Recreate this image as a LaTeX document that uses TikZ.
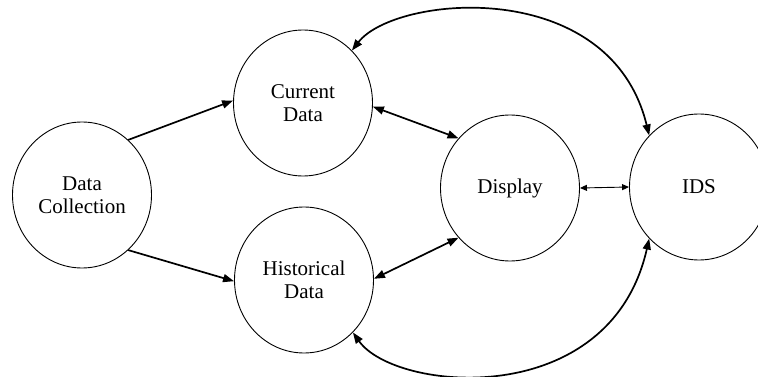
\documentclass[tikz,border=0pt]{standalone}
\usepackage{fontspec}
\setmainfont{Liberation Serif}
\usetikzlibrary{shapes.geometric,arrows.meta}
\tikzset{
  proc/.style={ellipse, draw, line width=0.9pt, minimum width=139pt, minimum height=146pt,
    inner sep=0pt, align=center, font=\fontsize{21}{23}\selectfont},
  flow/.style={line width=1.7pt, -{Triangle[length=11pt,width=8pt]}},
  flowboth/.style={line width=1.7pt, {Triangle[length=11pt,width=8pt]}-{Triangle[length=11pt,width=8pt]}},
  thinboth/.style={line width=0.9pt, {Triangle[length=7pt,width=6pt]}-{Triangle[length=7pt,width=6pt]}}
}
\begin{document}
\begin{tikzpicture}[x=1pt,y=-1pt]
\useasboundingbox (0,0) rectangle (758,377);
\node[proc] (dc)  at (82,195)  {Data\\Collection};
\node[proc] (cur) at (303,103) {Current\\Data};
\node[proc] (his) at (304,280) {Historical\\Data};
\node[proc] (dis) at (510,188) {Display};
\node[proc] (ids) at (699,187) {IDS};

\draw[flow] (dc.50) -- (cur.178);
\draw[flow] (dc.-50) -- (his.181);
\draw[flowboth] (cur.-3) -- (dis.136);
\draw[flowboth] (his.1) -- (dis.-136);
\draw[thinboth] (dis.east) -- (ids.west);
\draw[flowboth] (cur.47) .. controls (395,-5) and (610,-25) .. (ids.134);
\draw[flowboth] (his.-47) .. controls (395,392) and (610,412) .. (ids.-134);
\end{tikzpicture}
\end{document}
